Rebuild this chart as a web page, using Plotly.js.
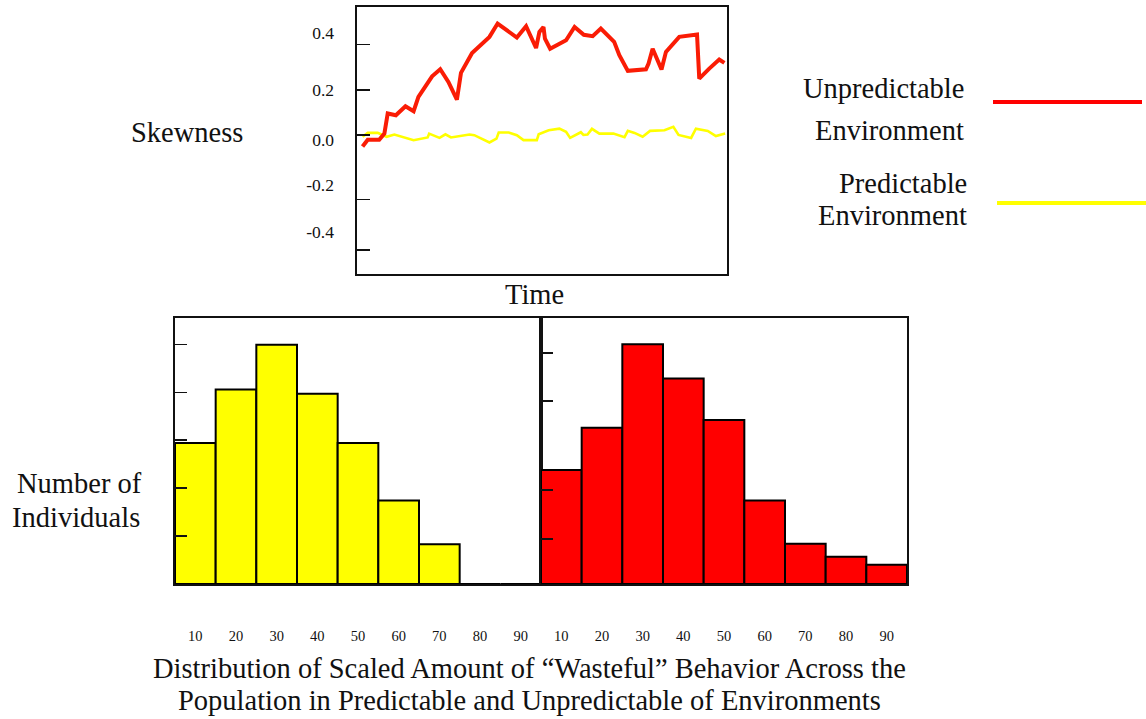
<!DOCTYPE html>
<html>
<head>
<meta charset="utf-8">
<script src="https://cdn.plot.ly/plotly-3.0.1.min.js"></script>
<style>
html,body{margin:0;padding:0;background:#fff;}
#chart{width:1146px;height:719px;}
</style>
</head>
<body>
<div id="chart"></div>
<script>
// ---- Data ----
// Top panel: skewness over time (time in arbitrary units 0-100)
const unpredictableTime = [1.5, 2.9, 6.0, 7.4, 8.3, 10.5, 13.1, 15.3, 16.6, 20.3, 22.5, 24.7, 27.0, 28.1, 31.1, 35.8, 38.0, 43.2, 45.7, 48.4, 49.3, 50.4, 50.8, 52.2, 56.5, 58.8, 61.3, 63.7, 65.9, 69.5, 70.9, 73.2, 78.1, 78.8, 79.9, 82.3, 83.5, 87.1, 91.9, 92.5, 95.2, 97.9, 99.3];
const unpredictableSkew = [-0.05, -0.02, -0.02, 0.007, 0.096, 0.088, 0.128, 0.106, 0.169, 0.26, 0.291, 0.235, 0.157, 0.275, 0.363, 0.434, 0.493, 0.431, 0.481, 0.385, 0.456, 0.478, 0.426, 0.382, 0.419, 0.478, 0.443, 0.437, 0.471, 0.412, 0.353, 0.284, 0.291, 0.316, 0.382, 0.29, 0.368, 0.434, 0.444, 0.25, 0.294, 0.334, 0.319];

const predictableTime = [1.5, 2.9, 5.6, 6.9, 8.0, 10.1, 15.3, 19.1, 19.5, 22.3, 23.9, 25.4, 27.7, 30.4, 31.7, 35.8, 37.7, 38.3, 41.0, 43.2, 45.0, 48.6, 49.1, 51.8, 54.7, 56.5, 57.6, 60.5, 61.2, 62.3, 63.5, 65.5, 69.3, 72.3, 73.2, 75.0, 77.2, 79.2, 83.1, 85.5, 86.9, 90.3, 91.6, 94.8, 97.0, 99.5];
const predictableSkew = [-0.007, 0.010, 0.010, 0.0, -0.007, 0.003, -0.022, -0.010, 0.007, -0.012, 0.004, -0.010, -0.004, 0.003, 0.0, -0.032, -0.015, 0.012, 0.012, 0.0, -0.022, -0.022, 0.004, 0.022, 0.029, 0.015, -0.012, 0.013, 0.001, 0.003, 0.028, 0.007, 0.007, -0.009, 0.019, 0.010, -0.007, 0.019, 0.022, 0.037, 0.001, -0.012, 0.029, 0.019, -0.004, 0.007];

// Tick marks and tick labels of the skewness axis sit at slightly different
// heights in the original drawing, so they are kept separately.
const skewTickMarks = [0.4, 0.2, 0.0, -0.284, -0.507];
const skewLabelPos = [0.453, 0.201, -0.019, -0.221, -0.429];
const skewTickText = ["0.4", "0.2", "0.0", "-0.2", "-0.4"];

// Bottom panels: histogram of scaled "wasteful" behaviour (relative counts)
const binCenters = [10, 20, 30, 40, 50, 60, 70, 80, 90];
const binLabels = ["10", "20", "30", "40", "50", "60", "70", "80", "90"];
const predictableCounts = [29.4, 40.6, 49.9, 39.7, 29.4, 17.4, 8.3, 0, 0];
const unpredictableCounts = [23.8, 32.6, 50.0, 42.9, 34.2, 17.4, 8.4, 5.7, 4.0];
const leftCountTicks = [10, 20, 30, 40, 50];
const rightCountTicks = [9.4, 19.6, 38.2, 48.2];

// ---- Layout helpers ----
const W = 1146, H = 719;
const px = x => x / W;
const py = y => 1 - y / H;
const SERIF = "Liberation Serif, Times New Roman, serif";
const RED = "rgb(250,28,5)";
const YEL = "#ffff00";
const AX = "#111";
const TXT = 28.5;

const traces = [
  {type: "scatter", mode: "lines", x: predictableTime, y: predictableSkew,
   line: {color: YEL, width: 2.6}, xaxis: "x", yaxis: "y", name: "Predictable Environment", hoverinfo: "skip"},
  {type: "scatter", mode: "lines", x: unpredictableTime, y: unpredictableSkew,
   line: {color: RED, width: 4}, xaxis: "x", yaxis: "y4", name: "Unpredictable Environment", hoverinfo: "skip"},
  {type: "bar", x: binCenters, y: predictableCounts, width: 10,
   marker: {color: YEL, line: {color: "#000", width: 2}}, xaxis: "x2", yaxis: "y2", name: "Predictable"},
  {type: "bar", x: binCenters, y: unpredictableCounts, width: 10,
   marker: {color: "#ff0000", line: {color: "#000", width: 2}}, xaxis: "x3", yaxis: "y3", name: "Unpredictable"}
];

const baseAxis = {
  showgrid: false, zeroline: false, showline: true, mirror: true,
  linecolor: AX, linewidth: 2, fixedrange: true
};
const skewRange = [-0.613, 0.566];

const layout = {
  width: W, height: H,
  margin: {l: 0, r: 0, t: 0, b: 0},
  paper_bgcolor: "#fff", plot_bgcolor: "#fff",
  showlegend: false,
  bargap: 0,
  font: {family: SERIF, color: "#111"},
  xaxis: Object.assign({}, baseAxis, {
    domain: [px(357), px(727)], range: [0, 100], anchor: "y",
    ticks: "", showticklabels: false
  }),
  yaxis: Object.assign({}, baseAxis, {
    domain: [py(274), py(7)], range: skewRange, anchor: "x",
    tickmode: "array", tickvals: skewTickMarks, showticklabels: false,
    ticks: "inside", ticklen: 13, tickwidth: 1.5, tickcolor: AX
  }),
  yaxis4: {
    overlaying: "y", anchor: "x", side: "left", range: skewRange,
    showgrid: false, zeroline: false, showline: false, fixedrange: true,
    tickmode: "array", tickvals: skewLabelPos, ticktext: skewTickText,
    ticks: "", ticklabelstandoff: 22,
    tickfont: {family: SERIF, size: 17.5, color: "#111"}
  },
  xaxis2: Object.assign({}, baseAxis, {
    domain: [px(175), px(541)], range: [5, 95], anchor: "y2",
    tickmode: "array", tickvals: binCenters, ticktext: binLabels,
    ticks: "", ticklabelstandoff: 38,
    tickfont: {family: SERIF, size: 14.5, color: "#111"}
  }),
  yaxis2: Object.assign({}, baseAxis, {
    domain: [py(584), py(318)], range: [0, 55.5], anchor: "x2",
    tickmode: "array", tickvals: leftCountTicks, showticklabels: false,
    ticks: "inside", ticklen: 12, tickwidth: 1.5, tickcolor: AX
  }),
  xaxis3: Object.assign({}, baseAxis, {
    domain: [px(541), px(907)], range: [5, 95], anchor: "y3",
    tickmode: "array", tickvals: binCenters, ticktext: binLabels,
    ticks: "", ticklabelstandoff: 38,
    tickfont: {family: SERIF, size: 14.5, color: "#111"}
  }),
  yaxis3: Object.assign({}, baseAxis, {
    domain: [py(584), py(318)], range: [0, 55.5], anchor: "x3",
    tickmode: "array", tickvals: rightCountTicks, showticklabels: false,
    ticks: "inside", ticklen: 12, tickwidth: 1.5, tickcolor: AX
  }),
  shapes: [
    {type: "line", xref: "paper", yref: "paper", x0: px(993), x1: px(1142), y0: py(102), y1: py(102),
     line: {color: "#ff0000", width: 4}},
    {type: "line", xref: "paper", yref: "paper", x0: px(997), x1: px(1146), y0: py(203), y1: py(203),
     line: {color: YEL, width: 4}}
  ],
  annotations: [
    {text: "Skewness", x: px(187), y: py(132), xanchor: "center", yanchor: "middle"},
    {text: "Time", x: px(534), y: py(294), xanchor: "center", yanchor: "middle"},
    {text: "Unpredictable", x: px(966), y: py(89), xanchor: "right", yanchor: "middle"},
    {text: "Environment", x: px(966), y: py(131), xanchor: "right", yanchor: "middle"},
    {text: "Predictable", x: px(969), y: py(183), xanchor: "right", yanchor: "middle"},
    {text: "Environment", x: px(969), y: py(215), xanchor: "right", yanchor: "middle"},
    {text: "Number of", x: px(144), y: py(483), xanchor: "right", yanchor: "middle"},
    {text: "Individuals", x: px(142), y: py(517), xanchor: "right", yanchor: "middle"},
    {text: "Distribution of Scaled Amount of \u201cWasteful\u201d Behavior Across the", x: px(529), y: py(668), xanchor: "center", yanchor: "middle"},
    {text: "Population in Predictable and Unpredictable of Environments", x: px(529), y: py(700), xanchor: "center", yanchor: "middle"}
  ].map(a => Object.assign({xref: "paper", yref: "paper", showarrow: false},
                           a, {font: Object.assign({family: SERIF, size: TXT, color: "#111"}, a.font || {})}))
};

Plotly.newPlot("chart", traces, layout, {staticPlot: true, displayModeBar: false});
</script>
</body>
</html>
